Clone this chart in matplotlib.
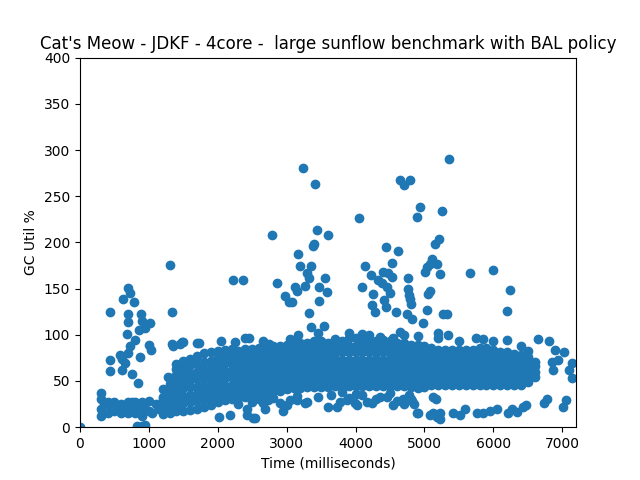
import matplotlib
matplotlib.use("Agg")
import matplotlib.pyplot as plt

# ---- dense main band: sample times and the GC util values read at each ----
band_times = [1200, 1300, 1400, 1500, 1600, 1700, 1800, 1900, 2000, 2100,
              2200, 2300, 2400, 2500, 2600, 2700, 2800, 2900, 3000, 3100,
              3200, 3300, 3400, 3500, 3600, 3700, 3800, 3900, 4000, 4100,
              4200, 4300, 4400, 4500, 4600, 4700, 4800, 4900, 5000, 5100,
              5200, 5300, 5400, 5500, 5600, 5700, 5800, 5900, 6000, 6100,
              6200, 6300, 6400, 6500, 6600]
band_values = [
    [16, 24, 33, 41],
    [15, 22, 30, 38, 47, 53],
    [18, 25, 33, 40, 48, 56, 63, 68],
    [18, 26, 34, 42, 50, 58, 65, 72],
    [19, 27, 35, 43, 51, 59, 67, 74],
    [20, 28, 36, 44, 52, 60, 68, 77],
    [22, 30, 38, 46, 54, 62, 71, 80],
    [24, 32, 40, 48, 56, 64, 72, 81],
    [27, 35, 43, 51, 59, 67, 75, 83],
    [29, 37, 45, 53, 61, 69, 76, 84],
    [30, 38, 46, 54, 62, 70, 77, 85],
    [32, 39, 47, 55, 63, 70, 77, 83],
    [33, 41, 49, 56, 63, 71, 78, 85],
    [35, 42, 50, 57, 64, 71, 78, 85],
    [37, 44, 51, 58, 65, 72, 79, 86],
    [37, 44, 51, 58, 65, 72, 79, 86],
    [39, 46, 53, 60, 67, 74, 81, 88],
    [39, 46, 53, 60, 67, 74, 81, 88],
    [41, 48, 55, 62, 69, 76, 82, 89],
    [42, 49, 56, 63, 70, 77, 84, 91],
    [42, 49, 56, 63, 70, 77, 84, 91],
    [44, 51, 58, 65, 72, 79, 85, 91],
    [44, 51, 58, 65, 72, 79, 86, 93],
    [44, 51, 58, 65, 72, 79, 86, 93],
    [44, 51, 58, 65, 72, 78, 85, 91],
    [45, 52, 59, 66, 73, 80, 86, 91],
    [45, 52, 59, 66, 73, 81, 87, 93],
    [45, 52, 59, 66, 73, 81, 88, 96],
    [45, 52, 59, 66, 73, 81, 88, 96],
    [45, 52, 59, 66, 73, 81, 88, 94],
    [45, 52, 59, 66, 73, 81, 88, 94],
    [45, 52, 59, 66, 73, 80, 87, 93],
    [45, 52, 59, 66, 73, 81, 88, 94],
    [45, 52, 59, 66, 73, 80, 87, 93],
    [45, 52, 59, 66, 73, 80, 86, 91],
    [45, 52, 59, 66, 73, 80, 86, 91],
    [44, 51, 58, 65, 72, 79, 84, 89],
    [42, 49, 56, 63, 70, 77, 84, 89],
    [44, 51, 58, 65, 72, 78, 83, 88],
    [46, 53, 60, 66, 72, 77, 82, 86],
    [46, 53, 59, 65, 71, 76, 80, 84],
    [46, 53, 59, 65, 71, 76, 80, 84],
    [46, 53, 59, 65, 71, 76, 80, 84],
    [46, 53, 59, 65, 71, 76, 80, 84],
    [46, 53, 59, 65, 71, 76, 80, 84],
    [46, 53, 59, 65, 71, 76, 80, 84],
    [46, 53, 60, 66, 72, 77, 82, 86],
    [46, 53, 60, 66, 72, 77, 82, 86],
    [46, 53, 59, 65, 71, 76, 80, 84],
    [46, 53, 59, 65, 70, 75, 81],
    [46, 53, 59, 65, 70, 75, 81],
    [46, 52, 58, 64, 70, 75, 79],
    [46, 52, 58, 64, 70, 75, 78],
    [49, 55, 61, 67, 72, 76],
    [54, 60, 66, 71],
]

# ---- ragged top edge of the band ----
edge_x = [1350, 1450, 1500, 1700, 2050, 2250, 2400, 2650, 2750, 3050, 3350,
          3450, 3700, 3900, 4100, 4200, 4350, 4550, 4650, 4700, 4900, 5200,
          5500, 5750, 5850, 6000, 6200, 6400, 6500]
edge_y = [88, 90, 92, 91, 93, 92, 97, 93, 90, 95, 108,
          102, 95, 102, 101, 100, 98, 97, 103, 100, 99, 96,
          93, 97, 95, 93, 94, 88, 82]

# ---- early low cluster (0 - 1400 ms) ----
low_x = [0, 300, 300, 300, 300, 350, 400, 400, 450, 500, 500, 550, 600, 600,
         650, 700, 700, 750, 800, 800, 850, 900, 900, 950, 1000, 1000, 1050,
         1100, 1150, 1200, 1200, 1250, 1300, 1350, 1400, 1400, 830, 900, 950,
         1280, 1330]
low_y = [0, 37, 30, 20, 12, 25, 15, 27, 22, 18, 27, 20, 15, 25,
         22, 27, 15, 20, 27, 15, 22, 12, 27, 20, 28, 18, 15,
         25, 20, 14, 30, 25, 18, 28, 22, 35, 1, 1, 2,
         54, 50]

# ---- early spike (350 - 1100 ms) ----
spike_x = [435, 435, 435, 580, 605, 605, 629, 677, 692, 692, 702, 702, 720,
           760, 788, 798, 847, 871, 885, 900, 943, 1001, 1016, 1031, 750, 650,
           720, 850]
spike_y = [125, 73, 61, 78, 74, 62, 139, 101, 123, 114, 151, 80, 145,
           58, 135, 94, 48, 76, 122, 115, 107, 89, 113, 84, 27, 70,
           88, 105]

# ---- high outliers above the band ----
high_x = [1306, 1340, 1330, 1476, 1727, 2220, 2360, 2449, 2791, 2864, 2975,
          3038, 3082, 3121, 3154, 3169, 3169, 3193, 3241, 3266, 3290, 3328,
          3328, 3353, 3386, 3400, 3415, 3444, 3474, 3474, 3546, 3561, 3590,
          3604, 4054, 4088, 4141, 4219, 4237, 4257, 4286, 4330, 4379, 4402,
          4417, 4441, 4446, 4451, 4475, 4499, 4524, 4533, 4586, 4620, 4644,
          4703, 4741, 4756, 4756, 4770, 4790, 4790, 4800, 4823, 4896, 4935,
          4983, 5007, 5032, 5041, 5056, 5080, 5080, 5104, 5152, 5177, 5201,
          5215, 5225, 5259, 5273, 5321, 5336, 5356, 5660, 5999, 6193, 6241]
high_y = [176, 125, 90, 92, 91, 159, 159, 96, 208, 156, 142,
          135, 135, 152, 147, 187, 100, 175, 281, 153, 167, 162,
          124, 175, 196, 198, 263, 213, 152, 137, 110, 162, 146,
          208, 226, 152, 175, 165, 132, 144, 125, 159, 156, 168,
          138, 195, 130, 152, 167, 145, 163, 178, 125, 191, 267,
          262, 122, 161, 150, 143, 267, 139, 133, 117, 227, 238,
          113, 168, 173, 127, 144, 147, 177, 182, 198, 177, 102,
          204, 166, 234, 122, 122, 100, 290, 167, 170, 126, 149]

# ---- points below the band (2000 - 7200 ms) ----
under_x = [2017, 2177, 2419, 2419, 2540, 2661, 2685, 2710, 2903, 2951, 3048,
           3266, 3604, 3725, 3774, 3991, 4232, 3650, 3900, 4100, 4300, 4450,
           4600, 4700, 4800, 4850, 4886, 4911, 5080, 5128, 5177, 5225, 5418,
           5515, 5588, 5757, 5853, 5951, 6048, 6217, 6266, 6338, 6435, 6474,
           5120, 5170, 4780, 4820, 3800, 4000, 4500, 2600, 2800, 3150, 3450,
           6734, 6773, 7015, 7054, 6652, 6812, 6894, 7029, 6846, 6870, 6942,
           7136, 7102, 7136,
           2516, 2733, 3000, 3145, 3290, 3870, 4016, 4161, 4354, 4547, 4693,
           5225, 2300, 2500]
under_y = [11, 13, 20, 13, 10, 26, 20, 31, 26, 18, 29,
           26, 22, 22, 27, 26, 26, 35, 32, 35, 30, 33,
           28, 25, 30, 25, 15, 15, 13, 15, 11, 15, 15,
           13, 20, 15, 15, 18, 20, 15, 20, 16, 22, 24,
           33, 30, 35, 28, 38, 36, 37, 30, 32, 34, 33,
           26, 30, 22, 29, 95, 93, 84, 81, 71, 62, 73,
           70, 62, 53,
           10, 29, 24, 29, 27, 29, 24, 27, 33, 24, 31,
           9, 25, 27]

time_ms = []
util = []
for t, ys in zip(band_times, band_values):
    time_ms += [t] * len(ys)
    util += ys
for xs, ys in [(edge_x, edge_y), (low_x, low_y), (spike_x, spike_y),
               (high_x, high_y), (under_x, under_y)]:
    time_ms += xs
    util += ys

fig, ax = plt.subplots(figsize=(6.4, 4.8), dpi=100)
ax.scatter(time_ms, util, color="#1f77b4")
ax.set_xlim(0, 7200)
ax.set_ylim(0, 400)
ax.set_title("Cat's Meow - JDKF - 4core -  large sunflow benchmark with BAL policy")
ax.set_xlabel("Time (milliseconds)")
ax.set_ylabel("GC Util %")
fig.savefig("out.png", dpi=100)
